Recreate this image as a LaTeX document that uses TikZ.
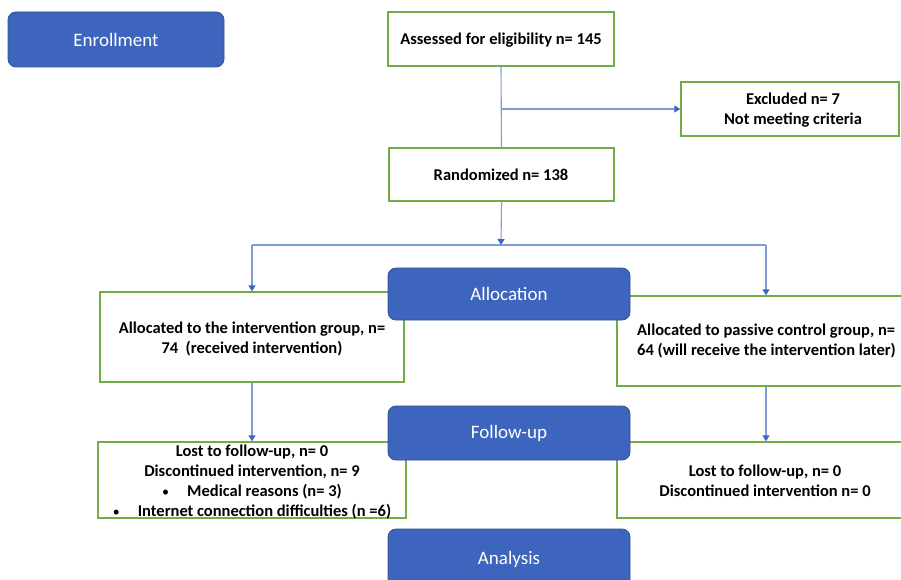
\documentclass[tikz,border=0pt]{standalone}
\usepackage{fontspec}
\setmainfont{Carlito}
\usetikzlibrary{arrows.meta}
\definecolor{bfill}{HTML}{3E65BD}
\definecolor{bdraw}{HTML}{2F528F}
\definecolor{gline}{HTML}{70AD47}
\definecolor{cline}{HTML}{7E9CD8}
\definecolor{ahead}{HTML}{3D66C4}
\newcommand{\smallbul}{{\normalfont\fontsize{14}{14}\selectfont\textbullet}}
\begin{document}
\begin{tikzpicture}[x=1pt,y=-1pt,
  gbox/.style={draw=gline,line width=1.4pt,fill=white,inner sep=0pt},
  bbox/.style={draw=bdraw,line width=0.8pt,fill=bfill,rounded corners=8pt,inner sep=0pt,
    text=white,font=\fontsize{19}{23}\selectfont},
  txt/.style={font=\bfseries\fontsize{16.5}{20}\selectfont,align=center,inner sep=0pt,text=black},
  conn/.style={draw=cline,line width=1.1pt},
  arr/.style={conn,-{Triangle[length=6pt,width=7pt,fill=ahead,color=ahead]}}]
\clip (0,0) rectangle (901,580);
\fill[white] (0,0) rectangle (901,580);
% green boxes
\node[gbox,minimum width=226pt,minimum height=54pt] (assess) at (501,39) {};
\node[gbox,minimum width=218pt,minimum height=54pt] (excl) at (790,109) {};
\node[gbox,minimum width=225pt,minimum height=53pt] (rand) at (501.5,174.5) {};
\node[gbox,minimum width=304pt,minimum height=90pt] (interv) at (252,337) {};
\node[gbox,minimum width=293pt,minimum height=90pt] (ctrl) at (763.5,341) {};
\node[gbox,minimum width=308pt,minimum height=76pt] (lfu) at (252,480) {};
\node[gbox,minimum width=293pt,minimum height=76pt] (rfu) at (763.5,480) {};
% texts
\node[txt] (tassess) at (501,40) {Assessed for eligibility n= 145};
\node[txt] (texcl) at (793,110) {Excluded n= 7\\Not meeting criteria};
\node[txt] (trand) at (501,175) {Randomized n= 138};
\node[txt] (tinterv) at (252,339) {Allocated to the intervention group, n=\\74\ \ (received intervention)};
\node[txt,anchor=west,align=left] (tctrl) at (637,341) {Allocated to passive control group, n=\\64 (will receive the intervention later)};
\node[txt] (tlfu) at (252,482) {Lost to follow-up, n= 0\\Discontinued intervention, n= 9\\\smallbul\hspace{18pt}Medical reasons (n= 3)\\\smallbul\hspace{18pt}Internet connection difficulties (n =6)};
\node[txt] (trfu) at (765,481) {Lost to follow-up, n= 0\\Discontinued intervention n= 0};
% blue boxes
\node[bbox,minimum width=216pt,minimum height=55pt] (enroll) at (116,39.5) {Enrollment};
\node[bbox,minimum width=242pt,minimum height=52pt] (alloc) at (509,294) {Allocation};
\node[bbox,minimum width=242pt,minimum height=54pt] (follow) at (509,433) {Follow-up};
\node[bbox,minimum width=242pt,minimum height=60pt] (anal) at (509,559) {Analysis};
% connectors
\coordinate (br) at (501,109);
\coordinate (split) at (501,245);
\coordinate (sl) at (252,245);
\coordinate (sr) at (766,245);
\draw[conn] (assess.south) -- (rand.north);
\draw[arr] (br) -- (excl.west);
\draw[arr] (rand.south) -- (split);
\draw[conn] (sl) -- (sr);
\draw[arr] (sl) -- (interv.north);
\draw[arr] (sr) -- (sr |- ctrl.north);
\draw[arr] (interv.south) -- (lfu.north);
\draw[arr] (sr |- ctrl.south) -- (sr |- rfu.north);
\end{tikzpicture}
\end{document}
